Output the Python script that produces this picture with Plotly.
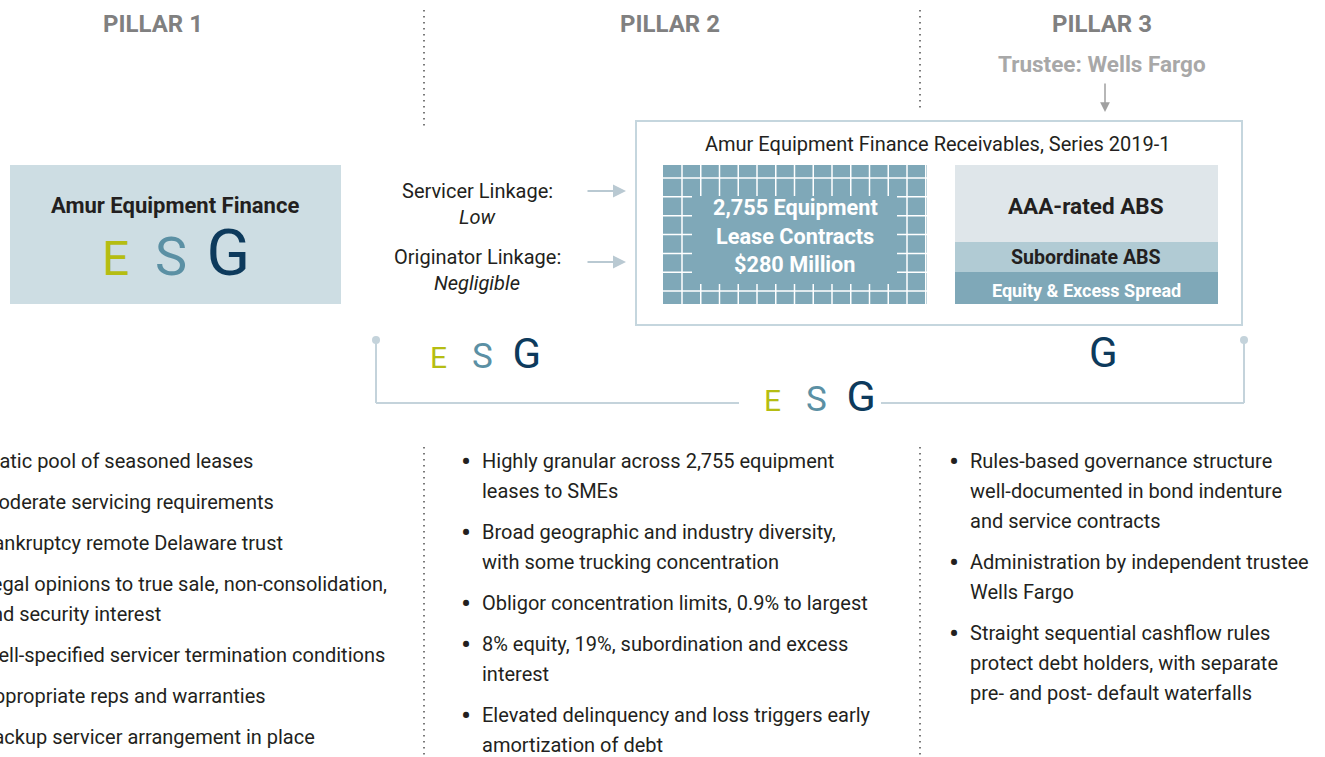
import plotly.graph_objects as go

W, H = 1325, 757
FONT = "Roboto, 'Liberation Sans', Arial, sans-serif"
TXT = "#231f20"
GRAY_HEAD = "#808080"
GRAY_TRUSTEE = "#a8a8a8"
C_E = "#b5bd12"
C_S = "#5b90a4"
C_G = "#0d3a5c"
LINE_C = "#c4d3db"

# ---------------- data (texts) ----------------
pillar_titles = ["PILLAR 1", "PILLAR 2", "PILLAR 3"]
trustee_label = "Trustee: Wells Fargo"
originator_label = "Amur Equipment Finance"
trust_title = "Amur Equipment Finance Receivables, Series 2019-1"
pool_lines = ["2,755 Equipment", "Lease Contracts", "$280 Million"]
tranche_labels = ["AAA-rated ABS", "Subordinate ABS", "Equity & Excess Spread"]
linkage_labels = ["Servicer Linkage:", "Originator Linkage:"]
linkage_values = ["Low", "Negligible"]
esg_letters = ["E", "S", "G"]

pillar1_bullets = [
    ["Static pool of seasoned leases"],
    ["Moderate servicing requirements"],
    ["Bankruptcy remote Delaware trust"],
    ["Legal opinions to true sale, non-consolidation,", "and security interest"],
    ["Well-specified servicer termination conditions"],
    ["Appropriate reps and warranties"],
    ["Backup servicer arrangement in place"],
]
pillar2_bullets = [
    ["Highly granular across 2,755 equipment", "leases to SMEs"],
    ["Broad geographic and industry diversity,", "with some trucking concentration"],
    ["Obligor concentration limits, 0.9% to largest"],
    ["8% equity, 19%, subordination and excess", "interest"],
    ["Elevated delinquency and loss triggers early", "amortization of debt"],
]
pillar3_bullets = [
    ["Rules-based governance structure", "well-documented in bond indenture", "and service contracts"],
    ["Administration by independent trustee", "Wells Fargo"],
    ["Straight sequential cashflow rules", "protect debt holders, with separate",
     "pre- and post- default waterfalls"],
]

fig = go.Figure()
shapes = []


def rect(x0, y0, x1, y1, fill, line_color=None, lw=0):
    shapes.append(dict(type="rect", xref="x", yref="y", x0=x0, y0=y0, x1=x1, y1=y1,
                       fillcolor=fill, line=dict(color=line_color or fill, width=lw),
                       layer="below"))


def seg(x0, y0, x1, y1, color, width=1.5, dash=None):
    shapes.append(dict(type="line", xref="x", yref="y", x0=x0, y0=y0, x1=x1, y1=y1,
                       line=dict(color=color, width=width, dash=dash), layer="above"))


def txt(x, y, s, size=20, color=TXT, bold=False, italic=False, xanchor="center"):
    if bold:
        s = f"<b>{s}</b>"
    if italic:
        s = f"<i>{s}</i>"
    # paper reference so that texts partly outside the canvas are still drawn (and clipped)
    fig.add_annotation(x=x / W, y=1 - y / H, xref="paper", yref="paper", text=s,
                       showarrow=False, xanchor=xanchor, yanchor="middle",
                       font=dict(family=FONT, size=size, color=color))


def arrow(x0, y0, x1, y1, color, width=2):
    fig.add_annotation(x=x1, y=y1, ax=x0, ay=y0, axref="x", ayref="y", xref="x", yref="y",
                       text="", showarrow=True, arrowhead=2, arrowsize=1.3,
                       arrowwidth=width, arrowcolor=color)


def esg(xc, y, sizes, base=20, gaps=(5, 4), letters=None):
    letters = letters or esg_letters
    cols = {"E": C_E, "S": C_S, "G": C_G}
    parts = [f"<span style='color:{cols[l]};font-size:{s}px'>{l}</span>" for l, s in zip(letters, sizes)]
    text = parts[0]
    for p, g in zip(parts[1:], gaps):
        text += "&nbsp;" * g + p
    fig.add_annotation(x=xc, y=y, text=text, showarrow=False, xanchor="center",
                       yanchor="middle", font=dict(family=FONT, size=base, color=C_G))


# ---------------- headings ----------------
for t, xc in zip(pillar_titles, [153, 670, 1102]):
    txt(xc, 24, t, size=24, color=GRAY_HEAD, bold=True)
txt(1102, 64, trustee_label, size=22.5, color=GRAY_TRUSTEE, bold=True)
arrow(1105, 82, 1105, 112, "#a0a0a0", width=1.5)

# dotted separators
for xs, ytop_end in [(424, 130), (920, 110)]:
    seg(xs, 10, xs, ytop_end, "#7a7a7a", width=2, dash="1.5px,4.5px")
    seg(xs, 447, xs, 757, "#7a7a7a", width=2, dash="1.5px,4.5px")

# ---------------- originator box ----------------
rect(10, 165, 341, 304, "#cddde3")
txt(175, 206, originator_label, size=22, bold=True)
esg(176, 253, [48, 54, 64], base=26, gaps=(4, 3))

# ---------------- linkages ----------------
for i, (lab, val) in enumerate(zip(linkage_labels, linkage_values)):
    y0 = 191 + i * 66
    txt(477, y0, lab, size=20)
    txt(477, y0 + 26, val, size=20, italic=True)
arrow(586, 191, 626, 191, "#b9c9d2")
arrow(586, 262, 626, 262, "#b9c9d2")

# ---------------- trust box ----------------
rect(636, 121, 1242, 325, "white", line_color="#c5d6de", lw=2)
txt(938, 144, trust_title, size=20)

# pool grid box
rect(663, 165, 927, 304, "#7fa8b8")
for k in range(14):
    xv = 682 + 18.75 * k
    seg(xv, 165, xv, 304, "white", width=1.5)
for k in range(7):
    yh = 178 + 18.85 * k
    seg(663, yh, 927, yh, "white", width=1.5)
shapes.append(dict(type="rect", xref="x", yref="y", x0=692, y0=196, x1=897, y1=284,
                   fillcolor="#7fa8b8", line=dict(width=0), layer="above"))
for i, line in enumerate(pool_lines):
    txt(795, 207 + 29 * i, line, size=21.7, color="white", bold=True)

# tranche stack
rect(955, 165, 1218, 242, "#dfe6ea")
rect(955, 242, 1218, 272, "#b1cbd4")
rect(955, 272, 1218, 304, "#7fa8b8")
txt(1086, 206, tranche_labels[0], size=22.5, bold=True)
txt(1086, 258, tranche_labels[1], size=19.6, bold=True)
txt(1086, 290, tranche_labels[2], size=18, bold=True, color="white")

# ---------------- ESG bracket ----------------
seg(376, 340, 376, 403, LINE_C, width=2)
seg(376, 403, 739, 403, LINE_C, width=2)
seg(881, 403, 1244, 403, LINE_C, width=2)
seg(1244, 403, 1244, 340, LINE_C, width=2)
for xd in (376, 1244):
    shapes.append(dict(type="circle", xref="x", yref="y", x0=xd - 4, y0=336, x1=xd + 4, y1=344,
                       fillcolor=LINE_C, line=dict(width=0)))
esg(485, 353, [30, 35, 42], base=20, gaps=(5, 4))
esg(1103, 352, [42], base=20, letters=["G"])
esg(820, 396, [30, 35, 43], base=20, gaps=(5, 4))

# ---------------- bullets ----------------
def bullets(items, x_text, y_start=461, lh=30, gap=41):
    y = y_start
    for item in items:
        txt(x_text - 14, y, "•", size=30, xanchor="center")
        for j, line in enumerate(item):
            txt(x_text, y + j * lh, line, size=20, xanchor="left")
        y += (len(item) - 1) * lh + gap


bullets(pillar1_bullets, -21)
bullets(pillar2_bullets, 480)
bullets(pillar3_bullets, 968)

fig.update_layout(
    width=W, height=H, margin=dict(l=0, r=0, t=0, b=0),
    paper_bgcolor="white", plot_bgcolor="white", showlegend=False,
    xaxis=dict(range=[0, W], visible=False, fixedrange=True),
    yaxis=dict(range=[H, 0], visible=False, fixedrange=True),
    shapes=shapes,
)
fig.write_html("out.html", config={"displayModeBar": False},
               post_script="document.body.style.margin='0px';")
